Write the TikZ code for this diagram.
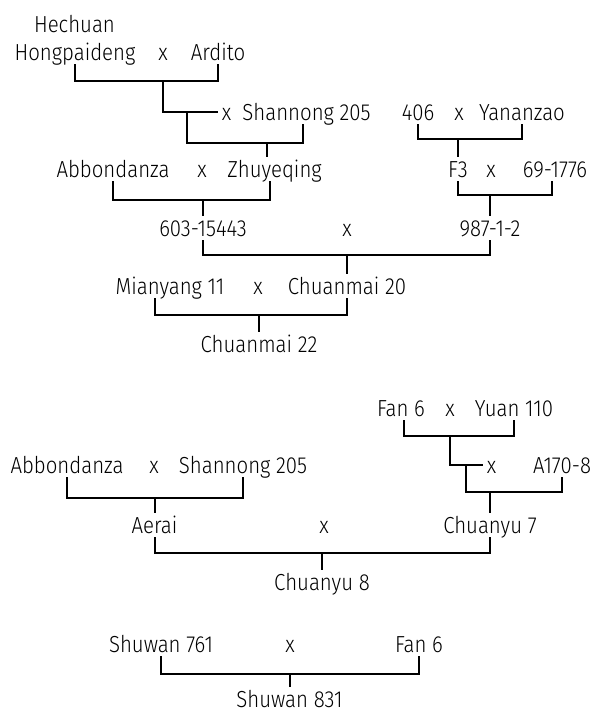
\documentclass[tikz,border=0pt]{standalone}
\usepackage{fontspec}
\setmainfont{Fira Sans}[UprightFont=* Light,FakeStretch=0.88]
\begin{document}
\begin{tikzpicture}[x=1pt,y=-1pt,line width=2pt,
  lbl/.style={font=\fontsize{23.2}{26}\selectfont,inner xsep=0pt,inner ysep=3pt,text height=16pt,text depth=0pt,anchor=base}]
\useasboundingbox (0,0) rectangle (604,713);
% Chuanmai 22
\node[lbl] (hech) at (74.5,32) {Hechuan};
\node[lbl] (hong) at (75,60) {Hongpaideng};\node[lbl] (xa) at (163,60) {x};\node[lbl] (ardi) at (218,60) {Ardito};
\node[lbl] (xb) at (226.5,120) {x};\node[lbl] (shan) at (306.5,120) {Shannong 205};
\node[lbl] (n406) at (418,120) {406};\node[lbl] (xc) at (459,120) {x};\node[lbl] (yana) at (522,120) {Yananzao};
\node[lbl] (abbo) at (113,177) {Abbondanza};\node[lbl] (xd) at (202,177) {x};\node[lbl] (zhuy) at (274.5,177) {Zhuyeqing};
\node[lbl] (f3) at (458,177) {F3};\node[lbl] (xe) at (491,177) {x};\node[lbl] (n69) at (555,177) {69-1776};
\node[lbl] (n603) at (203,236) {603-15443};\node[lbl] (xf) at (347,236) {x};\node[lbl] (n987) at (490,236) {987-1-2};
\node[lbl] (mian) at (170,294) {Mianyang 11};\node[lbl] (xg) at (258,294) {x};\node[lbl] (cm20) at (347,294) {Chuanmai 20};
\node[lbl] (cm22) at (259,352) {Chuanmai 22};
% Chuanyu 8
\node[lbl] (fan) at (401,416) {Fan 6};\node[lbl] (xh) at (450,416) {x};\node[lbl] (yuan) at (514,416) {Yuan 110};
\node[lbl] (abb2) at (67,473) {Abbondanza};\node[lbl] (xi) at (154,473) {x};\node[lbl] (shan2) at (243,473) {Shannong 205};
\node[lbl] (xj) at (491.5,473) {x};\node[lbl] (a170) at (562,473) {A170-8};
\node[lbl] (aera) at (154.5,533) {Aerai};\node[lbl] (xk) at (324,533) {x};\node[lbl] (cy7) at (490,533) {Chuanyu 7};
\node[lbl] (cy8) at (322,590) {Chuanyu 8};
% Shuwan 831
\node[lbl] (shu761) at (161,652) {Shuwan 761};\node[lbl] (xl) at (290,652) {x};\node[lbl] (fan2) at (419,652) {Fan 6};
\node[lbl] (shu831) at (289.5,707) {Shuwan 831};
% bar levels and legs
\coordinate (bHA) at (0,81);\coordinate (bSh) at (0,143);\coordinate (b406) at (0,139);\coordinate (bAZ) at (0,200);
\coordinate (bF3) at (0,195);\coordinate (b603) at (0,255);\coordinate (bMC) at (0,315);
\coordinate (bFY) at (0,436);\coordinate (bA17) at (0,492);\coordinate (bAS) at (0,498);\coordinate (bAC) at (0,553);\coordinate (bSF) at (0,674);
\coordinate (j1) at ([xshift=-34pt]xb.west);\coordinate (j2) at ([xshift=-20pt]xj.west);
\coordinate (shanleg) at ([xshift=-4pt]shan.south);\coordinate (zhuytop) at ([xshift=-8pt]zhuy.north);
\coordinate (zhuyleg) at ([xshift=-5pt]zhuy.south);\coordinate (n69leg) at ([xshift=-3pt]n69.south);
\coordinate (mianleg) at ([xshift=-15pt]mian.south);\coordinate (fanleg) at ([xshift=3pt]fan.south);
% crosses
\draw (hong.south) |- (bHA -| ardi.south) -- (ardi.south);\draw (bHA -| xa) |- ([xshift=-3pt]xb.west);
\draw (j1) |- (bSh -| shanleg) -- (shanleg);\draw (bSh -| zhuytop) -- (zhuytop);
\draw (n406.south) |- (b406 -| yana.south) -- (yana.south);\draw (b406 -| f3) -- (f3.north);
\draw (abbo.south) |- (bAZ -| zhuyleg) -- (zhuyleg);\draw (bAZ -| n603) -- (n603.north);
\draw (f3.south) |- (bF3 -| n69leg) -- (n69leg);\draw (bF3 -| n987) -- (n987.north);
\draw (n603.south) |- (b603 -| n987.south) -- (n987.south);\draw (b603 -| cm20) -- (cm20.north);
\draw (mianleg) |- (bMC -| cm20.south) -- (cm20.south);\draw (bMC -| cm22) -- (cm22.north);
\draw (fanleg) |- (bFY -| yuan.south) -- (yuan.south);\draw (bFY -| xh) |- ([xshift=-3pt]xj.west);
\draw (j2) |- (bA17 -| a170.south) -- (a170.south);\draw (bA17 -| cy7) -- (cy7.north);
\draw (abb2.south) |- (bAS -| shan2.south) -- (shan2.south);\draw (bAS -| aera) -- (aera.north);
\draw (aera.south) |- (bAC -| cy7.south) -- (cy7.south);\draw (bAC -| cy8) -- (cy8.north);
\draw (shu761.south) |- (bSF -| fan2.south) -- (fan2.south);\draw (bSF -| shu831) -- (shu831.north);
\end{tikzpicture}
\end{document}
